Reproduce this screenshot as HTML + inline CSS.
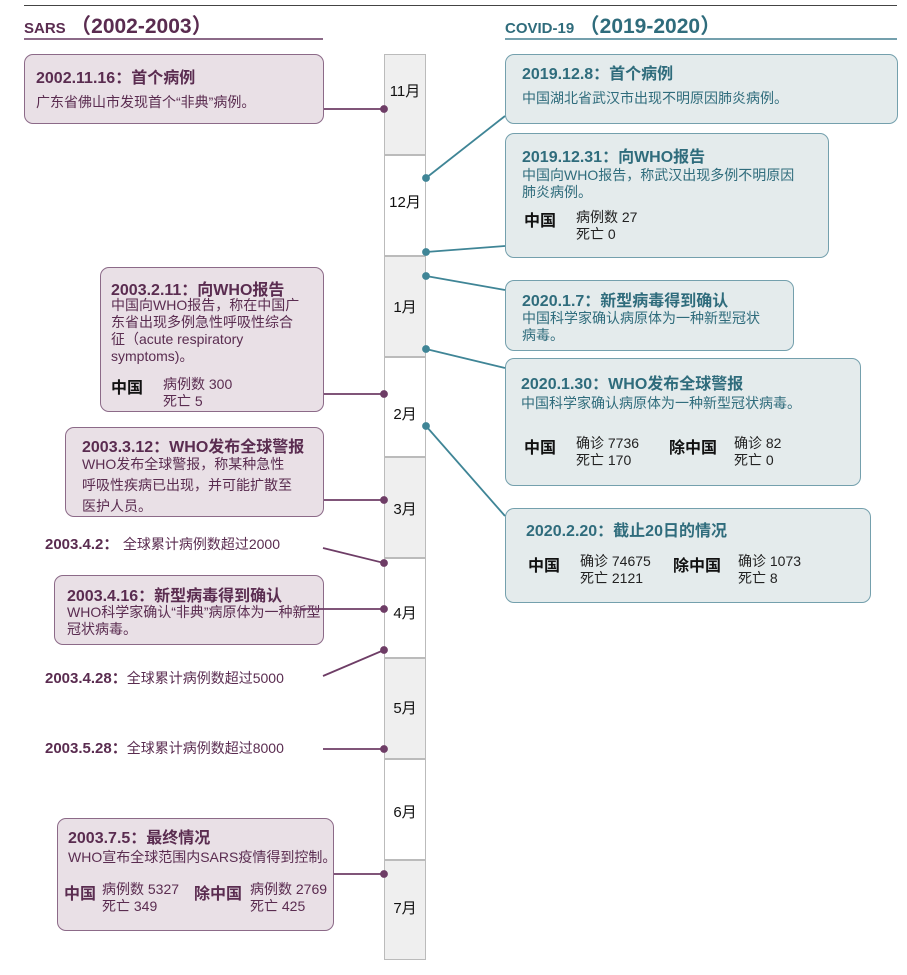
<!DOCTYPE html>
<html><head><meta charset="utf-8"><style>
body{margin:0;width:907px;height:975px;background:#fff;position:relative;overflow:hidden;font-family:"Liberation Sans","Noto Sans CJK SC",sans-serif;}
.a{position:absolute;white-space:nowrap;}
.bx{position:absolute;box-sizing:border-box;border-radius:9px;}
.p{background:#e9e0e6;border:1.5px solid #8c6a88;color:#5a2c50;}
.t{background:#e4ebec;border:1.5px solid #74a0ad;color:#2f6c7c;}
.ti{font-weight:bold;font-size:16px;}
.tx{font-size:14px;line-height:17px;}
.k{color:#111;font-weight:bold;font-size:16px;}
.n{color:#222;font-size:14px;line-height:17px;}
.m{position:absolute;left:384px;width:42px;box-sizing:border-box;border:1px solid #bbb;border-top:none;font-size:15px;color:#111;text-align:center;}
</style></head><body>
<div class="a" style="left:24px;top:5px;width:873px;height:1px;background:#444"></div>
<div class="a" style="left:24px;top:10px;color:#5a2c50;font-weight:bold"><span style="font-size:15px">SARS</span> <span style="font-size:21px">（2002-2003）</span></div>
<div class="a" style="left:24px;top:38px;width:299px;height:1.5px;background:#8c6a88"></div>
<div class="a" style="left:505px;top:10px;color:#2f6c7c;font-weight:bold"><span style="font-size:15px">COVID-19</span> <span style="font-size:21px">（2019-2020）</span></div>
<div class="a" style="left:505px;top:38px;width:392px;height:1.5px;background:#74a0ad"></div>

<div class="m" style="top:54px;height:101px;background:#efefef;border-top:1px solid #bbb"><div style="margin-top:25px">11月</div></div>
<div class="m" style="top:155px;height:101px;background:#fff;border-top:1px solid #bbb"><div style="margin-top:35px">12月</div></div>
<div class="m" style="top:256px;height:101px;background:#efefef;border-top:1px solid #bbb"><div style="margin-top:39px">1月</div></div>
<div class="m" style="top:357px;height:100px;background:#fff;border-top:1px solid #bbb"><div style="margin-top:45px">2月</div></div>
<div class="m" style="top:457px;height:101px;background:#efefef;border-top:1px solid #bbb"><div style="margin-top:40px">3月</div></div>
<div class="m" style="top:558px;height:100px;background:#fff;border-top:1px solid #bbb"><div style="margin-top:43px">4月</div></div>
<div class="m" style="top:658px;height:101px;background:#efefef;border-top:1px solid #bbb"><div style="margin-top:38px">5月</div></div>
<div class="m" style="top:759px;height:101px;background:#fff;border-top:1px solid #bbb"><div style="margin-top:41px">6月</div></div>
<div class="m" style="top:860px;height:100px;background:#efefef;border-top:1px solid #bbb"><div style="margin-top:36px">7月</div></div>

<!-- left boxes -->
<div class="bx p" style="left:24px;top:54px;width:300px;height:70px;">
<div class="a ti" style="left:11px;top:9px">2002.11.16：首个病例</div>
<div class="a tx" style="left:11px;top:39px">广东省佛山市发现首个“非典”病例。</div></div>

<div class="bx p" style="left:100px;top:267px;width:224px;height:145px;">
<div class="a ti" style="left:10px;top:8px">2003.2.11：向WHO报告</div>
<div class="a tx" style="left:10px;top:29px">中国向WHO报告，称在中国广<br>东省出现多例急性呼吸性综合<br>征（acute respiratory<br>symptoms)。</div>
<div class="a k" style="left:10px;top:106px">中国</div>
<div class="a tx" style="left:62px;top:108px">病例数 300<br>死亡 5</div></div>

<div class="bx p" style="left:65px;top:427px;width:259px;height:90px;">
<div class="a ti" style="left:16px;top:5px">2003.3.12：WHO发布全球警报</div>
<div class="a tx" style="left:16px;top:26px;line-height:21px">WHO发布全球警报，称某种急性<br>呼吸性疾病已出现，并可能扩散至<br>医护人员。</div></div>

<div class="a" style="left:45px;top:533px;color:#5a2c50"><b style="font-size:15px">2003.4.2：</b> <span style="font-size:14px">全球累计病例数超过2000</span></div>

<div class="bx p" style="left:54px;top:575px;width:270px;height:70px;">
<div class="a ti" style="left:12px;top:6px">2003.4.16：新型病毒得到确认</div>
<div class="a tx" style="left:12px;top:28px">WHO科学家确认“非典”病原体为一种新型<br>冠状病毒。</div></div>

<div class="a" style="left:45px;top:667px;color:#5a2c50"><b style="font-size:15px">2003.4.28：</b><span style="font-size:14px">全球累计病例数超过5000</span></div>
<div class="a" style="left:45px;top:737px;color:#5a2c50"><b style="font-size:15px">2003.5.28：</b><span style="font-size:14px">全球累计病例数超过8000</span></div>

<div class="bx p" style="left:57px;top:818px;width:277px;height:113px;">
<div class="a ti" style="left:10px;top:5px">2003.7.5：最终情况</div>
<div class="a tx" style="left:10px;top:30px">WHO宣布全球范围内SARS疫情得到控制。</div>
<div class="a ti" style="left:6px;top:61px">中国</div>
<div class="a tx" style="left:44px;top:62px">病例数 5327<br>死亡 349</div>
<div class="a ti" style="left:136px;top:61px">除中国</div>
<div class="a tx" style="left:192px;top:62px">病例数 2769<br>死亡 425</div></div>

<!-- right boxes -->
<div class="bx t" style="left:505px;top:54px;width:393px;height:70px;">
<div class="a ti" style="left:16px;top:5px">2019.12.8：首个病例</div>
<div class="a tx" style="left:16px;top:35px">中国湖北省武汉市出现不明原因肺炎病例。</div></div>

<div class="bx t" style="left:505px;top:133px;width:324px;height:125px;">
<div class="a ti" style="left:16px;top:9px">2019.12.31：向WHO报告</div>
<div class="a tx" style="left:16px;top:33px">中国向WHO报告，称武汉出现多例不明原因<br>肺炎病例。</div>
<div class="a k" style="left:18px;top:73px">中国</div>
<div class="a n" style="left:70px;top:75px">病例数 27<br>死亡 0</div></div>

<div class="bx t" style="left:505px;top:280px;width:289px;height:71px;">
<div class="a ti" style="left:16px;top:6px">2020.1.7：新型病毒得到确认</div>
<div class="a tx" style="left:16px;top:29px">中国科学家确认病原体为一种新型冠状<br>病毒。</div></div>

<div class="bx t" style="left:505px;top:358px;width:356px;height:128px;">
<div class="a ti" style="left:15px;top:11px">2020.1.30：WHO发布全球警报</div>
<div class="a tx" style="left:15px;top:36px">中国科学家确认病原体为一种新型冠状病毒。</div>
<div class="a k" style="left:18px;top:75px">中国</div>
<div class="a n" style="left:70px;top:76px">确诊 7736<br>死亡 170</div>
<div class="a k" style="left:163px;top:75px">除中国</div>
<div class="a n" style="left:228px;top:76px">确诊 82<br>死亡 0</div></div>

<div class="bx t" style="left:505px;top:508px;width:366px;height:95px;">
<div class="a ti" style="left:20px;top:8px">2020.2.20：截止20日的情况</div>
<div class="a k" style="left:22px;top:43px">中国</div>
<div class="a n" style="left:74px;top:44px">确诊 74675<br>死亡 2121</div>
<div class="a k" style="left:167px;top:43px">除中国</div>
<div class="a n" style="left:232px;top:44px">确诊 1073<br>死亡 8</div></div>

<svg class="a" style="left:0;top:0" width="907" height="975">
<g stroke="#6e3d66" stroke-width="1.8" fill="#6e3d66">
<line x1="324" y1="109" x2="384" y2="109"/><circle cx="384" cy="109" r="3"/>
<line x1="324" y1="394" x2="384" y2="394"/><circle cx="384" cy="394" r="3"/>
<line x1="324" y1="500" x2="384" y2="500"/><circle cx="384" cy="500" r="3"/>
<line x1="323" y1="548" x2="384" y2="563"/><circle cx="384" cy="563" r="3"/>
<line x1="300" y1="609" x2="384" y2="609"/><circle cx="384" cy="609" r="3"/>
<line x1="323" y1="676" x2="384" y2="650"/><circle cx="384" cy="650" r="3"/>
<line x1="323" y1="749" x2="384" y2="749"/><circle cx="384" cy="749" r="3"/>
<line x1="334" y1="874" x2="384" y2="874"/><circle cx="384" cy="874" r="3"/>
</g>
<g stroke="#3f8596" stroke-width="1.8" fill="#3f8596">
<line x1="426" y1="178" x2="505" y2="116"/><circle cx="426" cy="178" r="3"/>
<line x1="426" y1="252" x2="505" y2="246"/><circle cx="426" cy="252" r="3"/>
<line x1="426" y1="276" x2="505" y2="290"/><circle cx="426" cy="276" r="3"/>
<line x1="426" y1="349" x2="505" y2="368"/><circle cx="426" cy="349" r="3"/>
<line x1="426" y1="426" x2="505" y2="516"/><circle cx="426" cy="426" r="3"/>
</g>
</svg>
</body></html>
